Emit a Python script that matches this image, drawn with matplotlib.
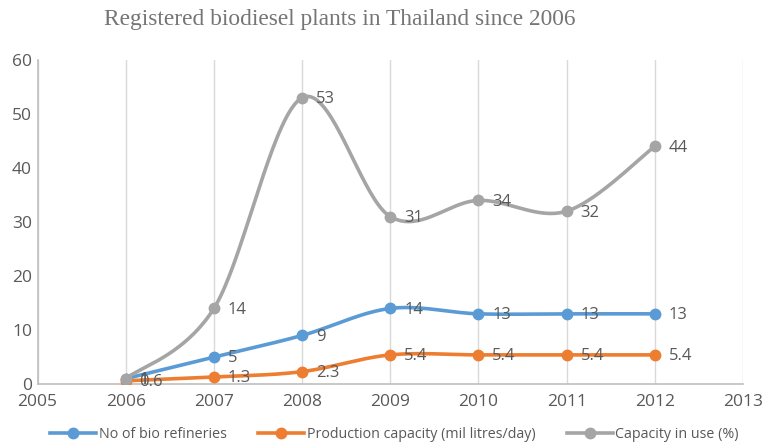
import numpy as np
import matplotlib

matplotlib.use("Agg")
import matplotlib.pyplot as plt
from matplotlib.lines import Line2D


# Данные по годам
years = [2006, 2007, 2008, 2009, 2010, 2011, 2012]
refineries = [1, 5, 9, 14, 13, 13, 13]
capacity = [0.6, 1.3, 2.3, 5.4, 5.4, 5.4, 5.4]
in_use = [1, 14, 53, 31, 34, 32, 44]

series_names = [
    "No of bio refineries",
    "Production capacity (mil litres/day)",
    "Capacity in use (%)",
]
colors = ["#5B9BD5", "#ED7D31", "#A5A5A5"]

TEXT = "#595959"
GRID = "#D9D9D9"


def smooth(x, y, n=40):
    """Сглаженная кривая как в Excel: кубические Безье, касательные (P[i+1]-P[i-1])/6."""
    p = np.column_stack([x, y]).astype(float)
    ext = np.vstack([p[0], p, p[-1]])
    t = np.linspace(0, 1, n)[:, None]
    out = []
    for i in range(len(p) - 1):
        p0, p3 = p[i], p[i + 1]
        c1 = p0 + (ext[i + 2] - ext[i]) / 6
        c2 = p3 - (ext[i + 3] - ext[i + 1]) / 6
        seg = ((1 - t) ** 3) * p0 + 3 * ((1 - t) ** 2) * t * c1 + 3 * (1 - t) * t**2 * c2 + t**3 * p3
        out.append(seg if i == 0 else seg[1:])
    seg = np.vstack(out)
    return seg[:, 0], seg[:, 1]


plt.rcParams["font.family"] = ["Open Sans", "DejaVu Sans"]

fig = plt.figure(figsize=(7.66, 4.44), dpi=100)
ax = fig.add_axes([0.049, 0.135, 0.921, 0.73])

for k, (vals, col) in enumerate(zip([refineries, capacity, in_use], colors)):
    sx, sy = smooth(years, vals)
    ax.plot(sx, sy, color=col, lw=2.6, solid_capstyle="round", zorder=3 + k)
    ax.plot(years, vals, "o", color=col, ms=7.5, zorder=3 + k)
    for xv, yv in zip(years, vals):
        ax.annotate(f"{yv:g}", (xv, yv), textcoords="offset points", xytext=(10, -1),
                    ha="left", va="center", fontsize=12, color=TEXT, zorder=10)

ax.set_xlim(2005, 2013)
ax.set_ylim(0, 60)
ax.set_xticks(range(2005, 2014))
ax.set_yticks(range(0, 61, 10))
ax.grid(axis="x", color=GRID, lw=1)
ax.set_axisbelow(True)
for side in ["top", "right"]:
    ax.spines[side].set_visible(False)
ax.spines["left"].set_color("#BFBFBF")
ax.spines["bottom"].set_color("#BFBFBF")
ax.spines["left"].set_linewidth(1.2)
ax.spines["bottom"].set_linewidth(1.2)
ax.tick_params(length=0, labelsize=12.5, colors=TEXT)
ax.tick_params(axis="x", pad=7)
ax.tick_params(axis="y", pad=4)

fig.text(0.444, 0.955, "Registered biodiesel plants in Thailand since 2006",
         ha="center", va="center", fontsize=16.8, color="#757575", family="Liberation Serif")

handles = [Line2D([], [], color=c, lw=2.6, marker="o", ms=7.5) for c in colors]
fig.legend(handles, series_names, loc="lower center", ncol=3, frameon=False,
           bbox_to_anchor=(0.515, -0.025), fontsize=10.3, labelcolor=TEXT,
           handlelength=3.2, columnspacing=2.2, handletextpad=0.2)

fig.savefig("out.png", dpi=100)
